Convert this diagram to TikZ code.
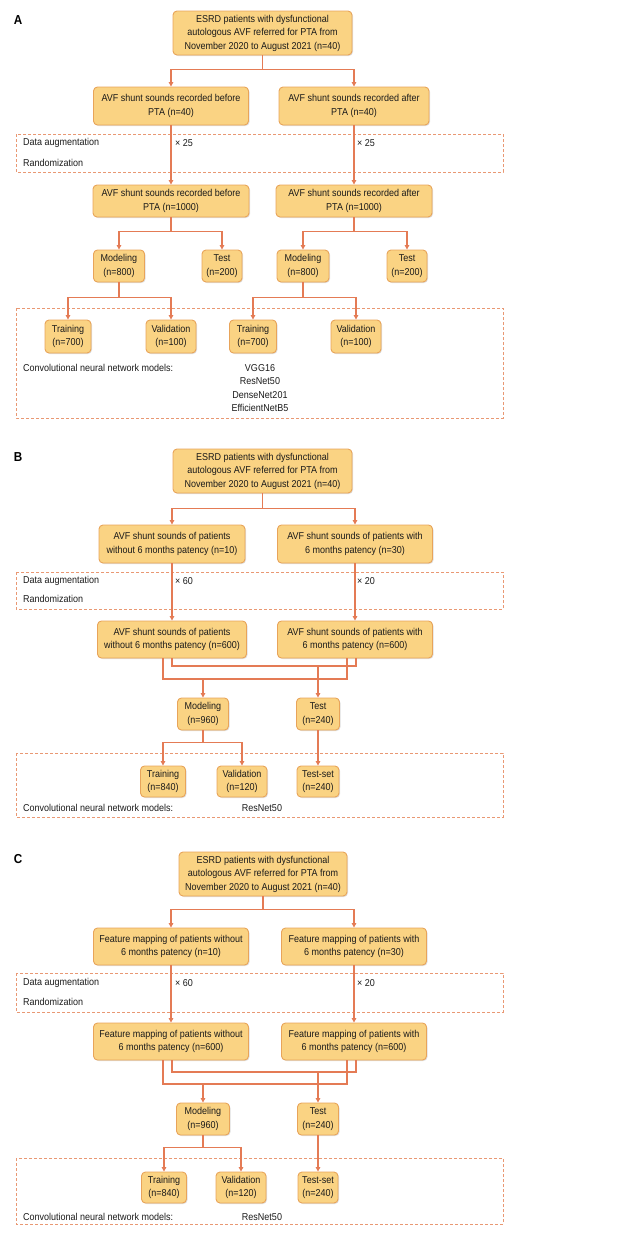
\documentclass[tikz,border=0pt]{standalone}
\usepackage{fontspec}
\setmainfont{Liberation Sans}[FakeStretch=0.9]
\usetikzlibrary{shapes, arrows.meta, shadows, calc, positioning}
\definecolor{flowfill}{HTML}{FAD383}
\definecolor{flowedge}{HTML}{E8A45A}
\definecolor{flowline}{HTML}{E47B55}
\definecolor{flowdash}{HTML}{E99873}
\definecolor{flowtext}{HTML}{1A1A1A}
\tikzset{
  flowbox/.style={draw=flowedge, fill=flowfill, line width=0.9pt, rounded corners=4pt,
    align=center, inner sep=1pt, text=flowtext, font=\fontsize{10}{13.5}\selectfont,
    drop shadow={shadow xshift=1pt, shadow yshift=-1pt, opacity=.25}},
  flowwire/.style={draw=flowline, line width=1.4pt},
  flowarrow/.style={flowwire, -{Triangle[length=4.5pt, width=4.5pt]}},
  dashbox/.style={draw=flowdash, line width=0.7pt, dash pattern=on 3pt off 2pt},
  plain/.style={text=flowtext, font=\fontsize{10}{13.5}\selectfont, inner sep=0pt},
  panel/.style={font=\fontsize{13}{13}\selectfont\bfseries, inner sep=0pt}
}

\begin{document}
\begin{tikzpicture}[x=1pt, y=-1pt]
    \useasboundingbox (0,0) rectangle (644,1234);

    % panel A
    \node[panel] (Alab) at (18,20) {A};
    \draw[dashbox] (16,134) rectangle (503,172);
    \draw[dashbox] (16,308) rectangle (503,418);

    \node[flowbox, minimum width=179, minimum height=44] (A0) at (262.5,33) {ESRD patients with dysfunctional\\autologous AVF referred for PTA from\\November 2020 to August 2021 (n=40)};
    \node[flowbox, minimum width=155, minimum height=38] (A1) at (171,106) {AVF shunt sounds recorded before\\PTA (n=40)};
    \node[flowbox, minimum width=150, minimum height=38] (A2) at (354,106) {AVF shunt sounds recorded after\\PTA (n=40)};
    \node[flowbox, minimum width=156, minimum height=32] (A3) at (171,201) {AVF shunt sounds recorded before\\PTA (n=1000)};
    \node[flowbox, minimum width=156, minimum height=32] (A4) at (354,201) {AVF shunt sounds recorded after\\PTA (n=1000)};
    \node[flowbox, minimum width=51, minimum height=32] (A5) at (119,266) {Modeling\\(n=800)};
    \node[flowbox, minimum width=40, minimum height=32] (A6) at (222,266) {Test\\(n=200)};
    \node[flowbox, minimum width=52, minimum height=32] (A7) at (303,266) {Modeling\\(n=800)};
    \node[flowbox, minimum width=40, minimum height=32] (A8) at (407,266) {Test\\(n=200)};
    \node[flowbox, minimum width=46, minimum height=33] (A9) at (68,336.5) {Training\\(n=700)};
    \node[flowbox, minimum width=50, minimum height=33] (A10) at (171,336.5) {Validation\\(n=100)};
    \node[flowbox, minimum width=47, minimum height=33] (A11) at (253,336.5) {Training\\(n=700)};
    \node[flowbox, minimum width=50, minimum height=33] (A12) at (356,336.5) {Validation\\(n=100)};

    \node[plain, anchor=west] (Aaug) at (23,143) {Data augmentation};
    \node[plain, anchor=west] (Arand) at (23,163) {Randomization};
    \node[plain, anchor=west] (Amul1) at (175,143) {× 25};
    \node[plain, anchor=west] (Amul2) at (357,143) {× 25};
    \node[plain, anchor=west] (Acnn) at (23,368) {Convolutional neural network models:};
    \node[plain, align=center, anchor=north] (Amodels) at (260,364) {VGG16\\ResNet50\\DenseNet201\\EfficientNetB5};

    \draw[flowarrow] (A0.south) -- ++(0,14) -| (A1.north);
    \draw[flowarrow] (A0.south) -- ++(0,14) -| (A2.north);
    \draw[flowarrow] (A1) -- (A3);
    \draw[flowarrow] (A2) -- (A4);
    \draw[flowarrow] (A3.south) -- ++(0,14) -| (A5.north);
    \draw[flowarrow] (A3.south) -- ++(0,14) -| (A6.north);
    \draw[flowarrow] (A4.south) -- ++(0,14) -| (A7.north);
    \draw[flowarrow] (A4.south) -- ++(0,14) -| (A8.north);
    \draw[flowarrow] (A5.south) -- ++(0,15) -| (A9.north);
    \draw[flowarrow] (A5.south) -- ++(0,15) -| (A10.north);
    \draw[flowarrow] (A7.south) -- ++(0,15) -| (A11.north);
    \draw[flowarrow] (A7.south) -- ++(0,15) -| (A12.north);

    % panel B
    \node[panel] (Blab) at (18,457) {B};
    \draw[dashbox] (16,572) rectangle (503,609);
    \draw[dashbox] (16,753) rectangle (503,817);

    \node[flowbox, minimum width=179, minimum height=44] (B0) at (262.5,471) {ESRD patients with dysfunctional\\autologous AVF referred for PTA from\\November 2020 to August 2021 (n=40)};
    \node[flowbox, minimum width=146, minimum height=38] (B1) at (172,544) {AVF shunt sounds of patients\\without 6 months patency (n=10)};
    \node[flowbox, minimum width=155, minimum height=38] (B2) at (355,544) {AVF shunt sounds of patients with\\6 months patency (n=30)};
    \node[flowbox, minimum width=149, minimum height=37] (B3) at (172,639.5) {AVF shunt sounds of patients\\without 6 months patency (n=600)};
    \node[flowbox, minimum width=155, minimum height=37] (B4) at (355,639.5) {AVF shunt sounds of patients with\\6 months patency (n=600)};
    \node[flowbox, minimum width=51, minimum height=32] (B5) at (203,714) {Modeling\\(n=960)};
    \node[flowbox, minimum width=43, minimum height=32] (B6) at (318,714) {Test\\(n=240)};
    \node[flowbox, minimum width=45, minimum height=31] (B7) at (163,781.5) {Training\\(n=840)};
    \node[flowbox, minimum width=50, minimum height=31] (B8) at (242,781.5) {Validation\\(n=120)};
    \node[flowbox, minimum width=42, minimum height=31] (B9) at (318,781.5) {Test-set\\(n=240)};

    \node[plain, anchor=west] (Baug) at (23,581) {Data augmentation};
    \node[plain, anchor=west] (Brand) at (23,599) {Randomization};
    \node[plain, anchor=west] (Bmul1) at (175,581) {× 60};
    \node[plain, anchor=west] (Bmul2) at (357,581) {× 20};
    \node[plain, anchor=west] (Bcnn) at (23,808) {Convolutional neural network models:};
    \node[plain] (Bmodel) at (262,808) {ResNet50};

    \coordinate (Bbus1) at (203,679);
    \coordinate (Bbus2) at (318,666);
    \draw[flowarrow] (B0.south) -- ++(0,15) -| (B1.north);
    \draw[flowarrow] (B0.south) -- ++(0,15) -| (B2.north);
    \draw[flowarrow] (B1) -- (B3);
    \draw[flowarrow] (B2) -- (B4);
    \draw[flowwire] ([xshift=-9pt]B3.south) |- (Bbus1) -| ([xshift=-8pt]B4.south);
    \draw[flowwire] (B3.south) |- (Bbus2) -| ([xshift=1pt]B4.south);
    \draw[flowarrow] (Bbus1) -- (B5);
    \draw[flowarrow] (Bbus2) -- (B6);
    \draw[flowarrow] (B5.south) -- ++(0,12) -| (B7.north);
    \draw[flowarrow] (B5.south) -- ++(0,12) -| (B8.north);
    \draw[flowarrow] (B6) -- (B9);

    % panel C
    \node[panel] (Clab) at (18,859) {C};
    \draw[dashbox] (16,973) rectangle (503,1012);
    \draw[dashbox] (16,1158) rectangle (503,1224);

    \node[flowbox, minimum width=168, minimum height=44] (C0) at (263,874) {ESRD patients with dysfunctional\\autologous AVF referred for PTA from\\November 2020 to August 2021 (n=40)};
    \node[flowbox, minimum width=155, minimum height=37] (C1) at (171,946.5) {Feature mapping of patients without\\6 months patency (n=10)};
    \node[flowbox, minimum width=145, minimum height=37] (C2) at (354,946.5) {Feature mapping of patients with\\6 months patency (n=30)};
    \node[flowbox, minimum width=155, minimum height=37] (C3) at (171,1041.5) {Feature mapping of patients without\\6 months patency (n=600)};
    \node[flowbox, minimum width=145, minimum height=37] (C4) at (354,1041.5) {Feature mapping of patients with\\6 months patency (n=600)};
    \node[flowbox, minimum width=53, minimum height=32] (C5) at (203,1119) {Modeling\\(n=960)};
    \node[flowbox, minimum width=41, minimum height=32] (C6) at (318,1119) {Test\\(n=240)};
    \node[flowbox, minimum width=45, minimum height=31] (C7) at (164,1187.5) {Training\\(n=840)};
    \node[flowbox, minimum width=50, minimum height=31] (C8) at (241,1187.5) {Validation\\(n=120)};
    \node[flowbox, minimum width=40, minimum height=31] (C9) at (318,1187.5) {Test-set\\(n=240)};

    \node[plain, anchor=west] (Caug) at (23,983) {Data augmentation};
    \node[plain, anchor=west] (Crand) at (23,1002) {Randomization};
    \node[plain, anchor=west] (Cmul1) at (175,983) {× 60};
    \node[plain, anchor=west] (Cmul2) at (357,983) {× 20};
    \node[plain, anchor=west] (Ccnn) at (23,1217) {Convolutional neural network models:};
    \node[plain] (Cmodel) at (262,1217) {ResNet50};

    \coordinate (Cbus1) at (203,1084);
    \coordinate (Cbus2) at (318,1072);
    \draw[flowarrow] (C0.south) -- ++(0,13) -| (C1.north);
    \draw[flowarrow] (C0.south) -- ++(0,13) -| (C2.north);
    \draw[flowarrow] (C1) -- (C3);
    \draw[flowarrow] (C2) -- (C4);
    \draw[flowwire] ([xshift=-8pt]C3.south) |- (Cbus1) -| ([xshift=-7pt]C4.south);
    \draw[flowwire] ([xshift=1pt]C3.south) |- (Cbus2) -| ([xshift=2pt]C4.south);
    \draw[flowarrow] (Cbus1) -- (C5);
    \draw[flowarrow] (Cbus2) -- (C6);
    \draw[flowarrow] (C5.south) -- ++(0,12) -| (C7.north);
    \draw[flowarrow] (C5.south) -- ++(0,12) -| (C8.north);
    \draw[flowarrow] (C6) -- (C9);
\end{tikzpicture}
\end{document}
